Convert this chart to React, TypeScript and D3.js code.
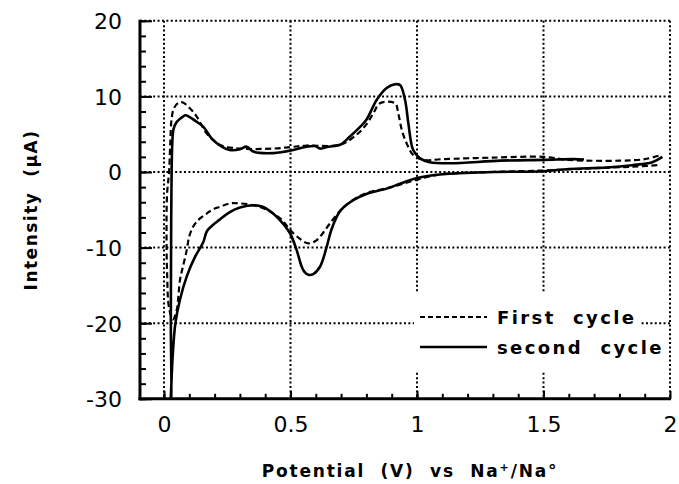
import { useEffect, useRef } from 'react'
import * as d3 from 'd3'

const W = 679
const H = 484
const FONT = '"DejaVu Sans", Verdana, sans-serif'

// potential (V) / current (uA)
const firstV = [1.95, 1.85, 1.7, 1.5, 1.3, 1.1, 1.0, 0.9, 0.8, 0.747, 0.7, 0.656, 0.63, 0.604, 0.58, 0.564, 0.54, 0.511, 0.485, 0.458, 0.4, 0.352, 0.3, 0.261, 0.221, 0.19, 0.169, 0.14, 0.116, 0.1, 0.09, 0.075, 0.063, 0.05, 0.035, 0.02, 0.012, 0.01, 0.012, 0.02, 0.025, 0.03, 0.04, 0.06, 0.075, 0.103, 0.13, 0.169, 0.22, 0.3, 0.432, 0.5, 0.564, 0.696, 0.76, 0.8, 0.828, 0.854, 0.913, 0.926, 0.94, 0.959, 0.985, 1.025, 1.1, 1.3, 1.5, 1.6, 1.8, 1.9, 1.96]
const firstI = [0.9, 0.7, 0.5, 0.2, 0.0, -0.3, -1.0, -2.0, -2.8, -3.7, -5.0, -6.8, -8.0, -9.0, -9.4, -9.4, -8.9, -8.1, -7.1, -6.1, -4.9, -4.4, -4.15, -4.15, -4.6, -5.0, -5.5, -6.2, -7.2, -8.5, -10.3, -12.5, -14.3, -18.3, -19.5, -18, -13, -8, -3, 0, 4, 7, 8.5, 9.2, 9.2, 8.4, 7.3, 5.1, 3.6, 3.1, 3.1, 3.3, 3.5, 3.6, 4.9, 6.3, 7.8, 9.1, 9.1, 7.75, 5.55, 3.8, 2.25, 1.6, 1.7, 1.9, 2.0, 1.6, 1.5, 1.7, 2.2]

const secondV = [1.97, 1.93, 1.85, 1.75, 1.6, 1.5, 1.3, 1.1, 1.0, 0.93, 0.88, 0.8, 0.75, 0.7, 0.683, 0.66, 0.643, 0.617, 0.59, 0.571, 0.555, 0.544, 0.524, 0.498, 0.458, 0.42, 0.39, 0.36, 0.3, 0.26, 0.22, 0.19, 0.17, 0.155, 0.123, 0.09, 0.063, 0.045, 0.035, 0.028, 0.026, 0.027, 0.027, 0.028, 0.03, 0.033, 0.037, 0.05, 0.07, 0.085, 0.1, 0.129, 0.155, 0.188, 0.228, 0.26, 0.3, 0.327, 0.353, 0.432, 0.511, 0.564, 0.6, 0.617, 0.65, 0.696, 0.735, 0.77, 0.8, 0.84, 0.88, 0.913, 0.933, 0.953, 0.966, 0.985, 1.012, 1.05, 1.13, 1.33, 1.5, 1.62, 1.66]
const secondI = [2.0, 1.3, 0.9, 0.6, 0.4, 0.1, 0.0, -0.3, -0.8, -1.6, -2.2, -2.9, -3.7, -5.0, -5.9, -7.8, -9.9, -12.5, -13.5, -13.6, -13.2, -12.5, -10.3, -8.1, -6.35, -5.2, -4.6, -4.4, -4.7, -5.3, -6.3, -7.1, -7.8, -9.3, -11.2, -13.8, -16.9, -20, -24, -29, -31, -31, -20, -10, 0, 4, 5.6, 6.6, 7.2, 7.5, 7.3, 6.65, 6.0, 4.45, 3.35, 2.9, 3.0, 3.35, 2.7, 2.5, 2.9, 3.35, 3.4, 3.1, 3.35, 3.6, 4.7, 5.8, 6.9, 9.5, 11.1, 11.6, 11.5, 9.5, 6.4, 2.9, 1.8, 1.3, 1.15, 1.5, 1.6, 1.7, 1.65]

const xMajor = [0, 0.5, 1, 1.5, 2]
const yMajor = [-30, -20, -10, 0, 10, 20]
const legendLabels = ['First  cycle', 'second  cycle']

export default function App() {
  const svgRef = useRef<SVGSVGElement>(null)

  useEffect(() => {
    const el = svgRef.current
    if (!el) return
    d3.select(el).selectAll('*').remove()
    const svg = d3.select(el).attr('width', W).attr('height', H)

    const x = d3.scaleLinear().domain([0, 2]).range([164, 670])
    const y = d3.scaleLinear().domain([-30, 20]).range([398.8, 20.8])
    const left = x(-0.095)
    const right = x(2)
    const top = y(20)
    const bottom = y(-30)

    // dotted grid
    const grid = svg.append('g')
      .attr('stroke', '#000')
      .attr('stroke-width', 2)
      .attr('stroke-dasharray', '2,2.4')
    grid.selectAll('.vx').data(xMajor).join('line')
      .attr('x1', d => x(d)).attr('x2', d => x(d))
      .attr('y1', top).attr('y2', bottom)
    grid.selectAll('.hy').data(yMajor.filter(d => d > -30)).join('line')
      .attr('x1', left).attr('x2', right)
      .attr('y1', d => y(d)).attr('y2', d => y(d))

    // curves
    svg.append('defs').append('clipPath').attr('id', 'plot-clip')
      .append('rect').attr('x', left).attr('y', top)
      .attr('width', right - left + 2).attr('height', bottom - top)

    const line = d3.line<[number, number]>()
      .x(d => x(d[0]))
      .y(d => y(d[1]))
      .curve(d3.curveCatmullRom)

    const first = firstV.map((v, i) => [v, firstI[i]] as [number, number])
    const second = secondV.map((v, i) => [v, secondI[i]] as [number, number])

    const curves = svg.append('g').attr('clip-path', 'url(#plot-clip)')
    curves.append('path').datum(first)
      .attr('fill', 'none').attr('stroke', '#000')
      .attr('stroke-width', 2.2).attr('stroke-dasharray', '6,3.5')
      .attr('d', line)
    curves.append('path').datum(second)
      .attr('fill', 'none').attr('stroke', '#000')
      .attr('stroke-width', 2.6)
      .attr('d', line)

    // axes
    const styleAxis = (g: any) => {
      g.select('.domain').remove()
      g.selectAll('line').attr('stroke', '#000').attr('stroke-width', 2)
      g.selectAll('text').attr('fill', '#000').attr('font-size', '22px')
        .attr('font-family', FONT)
    }

    svg.append('g')
      .attr('transform', `translate(${left},0)`)
      .call(d3.axisLeft(y).tickValues(d3.range(-30, 21, 2)).tickSize(-6).tickFormat(() => ''))
      .call(styleAxis)
    svg.append('g')
      .attr('transform', `translate(${left},0)`)
      .call(d3.axisLeft(y).tickValues(yMajor).tickSize(-12).tickPadding(18).tickFormat(d => String(d)))
      .call(styleAxis)
      .call(g => g.selectAll('text').attr('dy', '0.36em'))

    svg.append('g')
      .attr('transform', `translate(0,${bottom})`)
      .call(d3.axisBottom(x).tickValues(d3.range(0, 20).map(k => k / 10)).tickSize(-5).tickFormat(() => ''))
      .call(styleAxis)
    svg.append('g')
      .attr('transform', `translate(0,${bottom})`)
      .call(d3.axisBottom(x).tickValues(xMajor).tickSize(-8).tickPadding(18).tickFormat(d => String(d)))
      .call(styleAxis)
      .call(g => g.selectAll('text').attr('dy', '0.71em'))

    svg.append('line')
      .attr('x1', left).attr('x2', left).attr('y1', top - 1).attr('y2', bottom + 1.5)
      .attr('stroke', '#000').attr('stroke-width', 3)
    svg.append('line')
      .attr('x1', left - 1.5).attr('x2', right + 1).attr('y1', bottom).attr('y2', bottom)
      .attr('stroke', '#000').attr('stroke-width', 3)

    // axis titles
    const xt = svg.append('text')
      .attr('x', 410).attr('y', 477)
      .attr('text-anchor', 'middle')
      .attr('font-family', FONT).attr('font-size', '17px').attr('font-weight', 'bold')
      .attr('letter-spacing', '1.8px')
      .style('white-space', 'pre')
    xt.append('tspan').text('Potential  (V)  vs  Na')
    xt.append('tspan').attr('dy', -6).attr('font-size', '11px').text('+')
    xt.append('tspan').attr('dy', 6).text('/Na°')

    svg.append('text')
      .attr('transform', `translate(37,210) rotate(-90)`)
      .attr('text-anchor', 'middle')
      .attr('font-family', FONT).attr('font-size', '17px').attr('font-weight', 'bold')
      .attr('letter-spacing', '1.5px')
      .style('white-space', 'pre')
      .text('Intensity  (\u00b5A)')

    // legend
    svg.append('rect').attr('x', 414).attr('y', 293).attr('width', 226).attr('height', 79).attr('fill', '#fff')
    svg.append('rect').attr('x', 640).attr('y', 336).attr('width', 28).attr('height', 24).attr('fill', '#fff')
    const legend = svg.append('g')
    legend.selectAll('line').data(legendLabels).join('line')
      .attr('x1', 420).attr('x2', 487)
      .attr('y1', (_, i) => 317 + i * 30).attr('y2', (_, i) => 317 + i * 30)
      .attr('stroke', '#000')
      .attr('stroke-width', (_, i) => (i === 0 ? 2 : 2.6))
      .attr('stroke-dasharray', (_, i) => (i === 0 ? '5,3' : null))
    legend.selectAll('text').data(legendLabels).join('text')
      .attr('x', 497).attr('y', (_, i) => 324 + i * 30)
      .attr('font-family', FONT).attr('font-size', '18px').attr('font-weight', 'bold')
      .attr('letter-spacing', '2.4px')
      .style('white-space', 'pre')
      .text(d => d)
  }, [])

  return <svg ref={svgRef} style={{ position: 'absolute', left: 0, top: 0, display: 'block', background: '#fff' }} />
}
